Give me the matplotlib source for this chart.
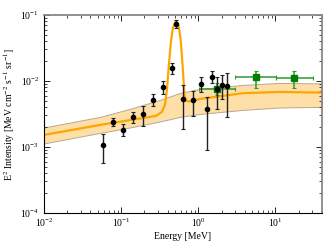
import numpy as np
import matplotlib
matplotlib.use("Agg")
import matplotlib.pyplot as plt

plt.rcParams['font.family'] = ['Liberation Serif', 'DejaVu Serif']
plt.rcParams['mathtext.fontset'] = 'stix'

# model curve (continuum + 511 keV line)
model_e = [0.01, 0.0531, 0.2825, 0.3377, 0.3693, 0.392, 0.416, 0.4416, 0.469, 0.513,
           0.5606, 0.595, 0.6317, 0.661, 0.691, 0.778, 1.049, 3.78, 11.4, 39.9]
model_i = [1.52e-3, 2.15e-3, 2.95e-3, 3.39e-3, 4.33e-3, 7.31e-3, 1.75e-2, 3.90e-2, 6.36e-2, 8.11e-2,
           6.58e-2, 3.90e-2, 1.47e-2, 6.14e-3, 4.98e-3, 4.89e-3, 5.33e-3, 6.52e-3, 6.81e-3, 6.65e-3]

# uncertainty band of the continuum
band_e = [0.01, 0.0531, 0.130, 0.318, 0.578, 1.049, 3.78, 11.4, 39.9]
band_hi = [1.97e-3, 2.85e-3, 3.77e-3, 5.15e-3, 6.58e-3, 7.57e-3, 8.70e-3, 9.33e-3, 9.17e-3]
band_lo = [1.13e-3, 1.63e-3, 1.97e-3, 2.43e-3, 2.85e-3, 3.16e-3, 3.64e-3, 3.96e-3, 4.04e-3]

# black data points
pt_e = [0.0575, 0.0776, 0.105, 0.141, 0.19, 0.26, 0.351, 0.455, 0.513,
        0.626, 0.859, 1.28, 1.09, 1.51, 1.73, 2.02, 2.34]
pt_i = [1.07e-3, 2.4e-3, 1.82e-3, 2.88e-3, 3.16e-3, 5.15e-3, 8.0e-3, 1.56e-2, 7.3e-2,
        5.33e-3, 5.15e-3, 3.8e-3, 9.0e-3, 1.16e-2, 7.6e-3, 8.6e-3, 8.3e-3]
pt_up = [1.58e-3, 2.72e-3, 2.21e-3, 3.43e-3, 4.23e-3, 6.3e-3, 1.0e-2, 1.85e-2, 8.4e-2,
         8.7e-3, 7.13e-3, 5.78e-3, 1.16e-2, 1.43e-2, 1.14e-2, 1.22e-2, 1.34e-2]
pt_lo = [5.8e-4, 2.04e-3, 1.47e-3, 2.29e-3, 2.09e-3, 4.18e-3, 6.35e-3, 1.28e-2, 6.3e-2,
         1.85e-3, 2.95e-3, 9.0e-4, 6.9e-3, 9.2e-3, 3.7e-3, 5.3e-3, 2.82e-3]

# green data points
gr_e = [1.76, 5.57, 17.5]
gr_i = [7.64e-3, 1.14e-2, 1.11e-2]
gr_elo = [1.02, 2.98, 10.3]
gr_ehi = [2.98, 10.3, 30.8]
gr_up = [9.4e-3, 1.43e-2, 1.43e-2]
gr_lo = [6.2e-3, 7.8e-3, 7.8e-3]

fig = plt.figure(figsize=(3.32, 2.49), dpi=100)
ax = fig.add_axes([0.1325, 0.145, 0.837, 0.795])

ax.fill_between(band_e, band_lo, band_hi, facecolor='#ffdfa8', edgecolor='#b8a890', lw=0.7, zorder=1)
ax.plot(model_e, model_i, color='#ffa500', lw=1.6, zorder=2)

pt_i = np.array(pt_i)
yerr = [pt_i - np.array(pt_lo), np.array(pt_up) - pt_i]
ax.errorbar(pt_e, pt_i, yerr=yerr, fmt='o', color='k', ecolor='#222222', ms=3, elinewidth=1,
            capsize=1.5, capthick=0.8, zorder=4)

gr_e = np.array(gr_e)
gr_i = np.array(gr_i)
xerr = [gr_e - np.array(gr_elo), np.array(gr_ehi) - gr_e]
gyerr = [gr_i - np.array(gr_lo), np.array(gr_up) - gr_i]
ax.errorbar(gr_e, gr_i, xerr=xerr, yerr=gyerr, fmt='s', color='#008000', ecolor='#2e9a2e', ms=4.5,
            elinewidth=1.1, capsize=1.5, capthick=0.8, zorder=3)

ax.set_xscale('log')
ax.set_yscale('log')
ax.set_xlim(1e-2, 40)
ax.set_ylim(1e-4, 1e-1)

ax.set_xlabel('Energy [MeV]', fontsize=7, labelpad=2)
ax.set_ylabel('E$^2$ Intensity [MeV cm$^{-2}$ s$^{-1}$ sr$^{-1}$]', fontsize=7, labelpad=2)
ax.tick_params(which='both', direction='in', top=True, right=True, labelsize=7)
ax.tick_params(which='major', length=4, width=0.6)
ax.tick_params(which='minor', length=2, width=0.5)
ax.tick_params(axis='x', pad=3)

for s in ['left', 'bottom']:
    ax.spines[s].set_color('k')
    ax.spines[s].set_linewidth(0.8)
for s in ['top', 'right']:
    ax.spines[s].set_color('#888888')
    ax.spines[s].set_linewidth(1.3)

fig.savefig('out.png', dpi=100)
